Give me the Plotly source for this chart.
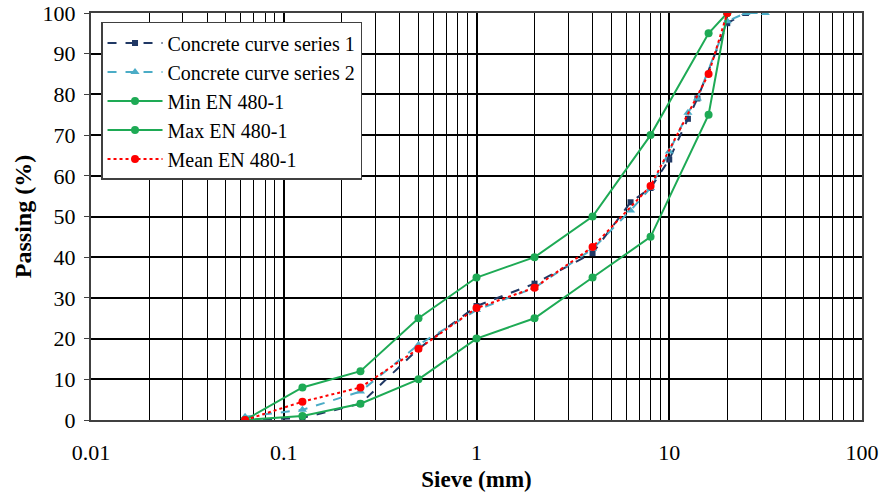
import plotly.graph_objects as go

# Data
s1_x = [0.063, 0.125, 0.25, 0.5, 1, 2, 4, 6.3, 8, 10, 12.5, 14, 20, 25]
s1_y = [0, 0.5, 4, 17.5, 28, 33.5, 41, 53.5, 57, 64, 74, 79, 97.5, 100]
s2_x = [0.063, 0.125, 0.25, 0.5, 1, 2, 4, 6.3, 8, 10, 12.5, 14, 20, 25, 31.5]
s2_y = [0.8, 2.5, 7, 18.5, 27, 32.5, 42, 51.5, 57, 66, 75.5, 79, 98, 100, 100]
en_x = [0.063, 0.125, 0.25, 0.5, 1, 2, 4, 8, 16, 20]
min_y = [0, 1, 4, 10, 20, 25, 35, 45, 75, 100]
max_y = [0, 8, 12, 25, 35, 40, 50, 70, 95, 100]
mean_y = [0, 4.5, 8, 17.5, 27.5, 32.5, 42.5, 57.5, 85, 100]

x_tickvals = [0.01, 0.1, 1, 10, 100]
x_ticktext = ["0.01", "0.1", "1", "10", "100"]
y_tickvals = list(range(0, 101, 10))

GREEN = "#1EAA55"
fig = go.Figure()
fig.add_trace(go.Scatter(x=s1_x, y=s1_y, name="Concrete curve series 1", mode="lines+markers",
                         line=dict(color="#203864", width=2, dash="dash"),
                         marker=dict(symbol="square", size=6, color="#203864")))
fig.add_trace(go.Scatter(x=s2_x, y=s2_y, name="Concrete curve series 2", mode="lines+markers",
                         line=dict(color="#4BACC6", width=2, dash="dash"),
                         marker=dict(symbol="triangle-up", size=8, color="#4BACC6")))
fig.add_trace(go.Scatter(x=en_x, y=min_y, name="Min EN 480-1", mode="lines+markers",
                         line=dict(color=GREEN, width=2),
                         marker=dict(symbol="circle", size=8, color=GREEN)))
fig.add_trace(go.Scatter(x=en_x, y=max_y, name="Max EN 480-1", mode="lines+markers",
                         line=dict(color=GREEN, width=2),
                         marker=dict(symbol="circle", size=8, color=GREEN)))
fig.add_trace(go.Scatter(x=en_x, y=mean_y, name="Mean EN 480-1", mode="lines+markers",
                         line=dict(color="#FF0000", width=2, dash="dot"),
                         marker=dict(symbol="circle", size=8, color="#FF0000")))

font = "Liberation Serif, Times New Roman, serif"
fig.update_layout(
    width=887, height=498,
    margin=dict(l=91, r=25, t=13, b=78),
    paper_bgcolor="white", plot_bgcolor="white",
    font=dict(family=font, size=22, color="black"),
    legend=dict(x=0.013, y=0.978, xanchor="left", yanchor="top",
                bgcolor="white", bordercolor="#404040", borderwidth=1.5,
                font=dict(family=font, size=20, color="black"),
                tracegroupgap=0, itemwidth=55),
    xaxis=dict(type="log", range=[-2, 2], tickvals=x_tickvals, ticktext=x_ticktext,
               showgrid=True, gridcolor="black", gridwidth=1.5,
               minor=dict(dtick="D1", showgrid=True, gridcolor="black", gridwidth=1.2),
               showline=True, linecolor="#404040", linewidth=2, mirror=True,
               ticks="", tickfont=dict(size=22), ticklabelstandoff=12,
               title=dict(text="<b>Sieve (mm)</b>", font=dict(size=23), standoff=6),
               zeroline=False, automargin=False),
    yaxis=dict(range=[0, 100], tickvals=y_tickvals,
               showgrid=True, gridcolor="black", gridwidth=1.5,
               showline=True, linecolor="#404040", linewidth=2, mirror=True,
               ticks="outside", ticklen=5, tickcolor="#404040",
               tickfont=dict(size=22), ticklabelstandoff=4,
               title=dict(text="<b>Passing (%)</b>", font=dict(size=24), standoff=4),
               zeroline=False, automargin=False),
)
fig.write_html("out.html")
